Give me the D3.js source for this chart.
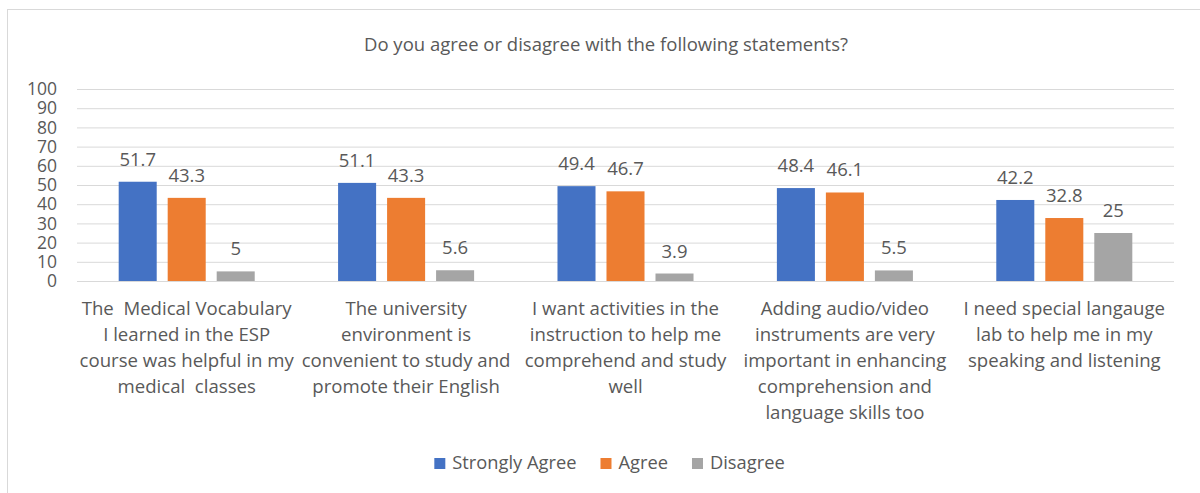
<!DOCTYPE html>
<html>
<head>
<meta charset="utf-8">
<script src="https://cdn.jsdelivr.net/npm/d3@7"></script>
<style>
  body { margin: 0; background: #fff; }
  text { font-family: "Open Sans", sans-serif; fill: #595959; }
</style>
</head>
<body>
<div id="chart"></div>
<script>
// category labels, already wrapped the way the original shows them
const categories = [
  ['The  Medical Vocabulary', 'I learned in the ESP', 'course was helpful in my', 'medical  classes'],
  ['The university', 'environment is', 'convenient to study and', 'promote their English'],
  ['I want activities in the', 'instruction to help me', 'comprehend and study', 'well'],
  ['Adding audio/video', 'instruments are very', 'important in enhancing', 'comprehension and', 'language skills too'],
  ['I need special langauge', 'lab to help me in my', 'speaking and listening'],
];
const seriesNames = ['Strongly Agree', 'Agree', 'Disagree'];
const stronglyAgree = [51.7, 51.1, 49.4, 48.4, 42.2];
const agree = [43.3, 43.3, 46.7, 46.1, 32.8];
const disagree = [5, 5.6, 3.9, 5.5, 25];
const yTicks = [0, 10, 20, 30, 40, 50, 60, 70, 80, 90, 100];
const colors = ['#4472C4', '#ED7D31', '#A5A5A5'];

const width = 1200;
const height = 493;
const plot = { l: 77, r: 1174, t: 89, b: 281 };

const svg = d3.select('#chart')
  .append('svg')
  .attr('width', width)
  .attr('height', height);

// outer chart border (right/bottom edges fall outside the crop)
svg.append('rect')
  .attr('x', 7.5).attr('y', 9.5)
  .attr('width', 1300).attr('height', 600)
  .attr('fill', 'none')
  .attr('stroke', '#d9d9d9');

svg.append('text')
  .attr('x', 606).attr('y', 51)
  .attr('text-anchor', 'middle')
  .attr('font-size', '18.5px')
  .text('Do you agree or disagree with the following statements?');

const keys = categories.map((d, i) => i);
const rows = keys.map((i) => [stronglyAgree[i], agree[i], disagree[i]]);

const x0 = d3.scaleBand()
  .domain(keys)
  .range([plot.l, plot.r])
  .paddingInner(0.38)
  .paddingOuter(0.19);

const x1 = d3.scaleBand()
  .domain([0, 1, 2])
  .range([0, x0.bandwidth()])
  .paddingInner(0.224);

const y = d3.scaleLinear()
  .domain([0, 100])
  .range([plot.b, plot.t]);

// gridlines + y labels
const yAxis = svg.append('g')
  .attr('transform', `translate(${plot.l},0)`)
  .call(d3.axisLeft(y).tickValues(yTicks).tickSize(-(plot.r - plot.l)).tickPadding(20));
yAxis.select('.domain').remove();
yAxis.selectAll('.tick line').attr('stroke', '#d9d9d9');
yAxis.selectAll('.tick text')
  .attr('font-size', '17.5px')
  .attr('fill', '#595959')
  .attr('font-family', '"Open Sans", sans-serif');

const groups = svg.selectAll('g.grp')
  .data(rows)
  .join('g')
  .attr('class', 'grp')
  .attr('transform', (d, i) => `translate(${x0(i)},0)`);

groups.selectAll('rect')
  .data((d) => d)
  .join('rect')
  .attr('x', (d, j) => x1(j))
  .attr('y', (d) => y(d))
  .attr('width', x1.bandwidth())
  .attr('height', (d) => y(0) - y(d))
  .attr('fill', (d, j) => colors[j]);

groups.selectAll('text.val')
  .data((d) => d)
  .join('text')
  .attr('class', 'val')
  .attr('x', (d, j) => x1(j) + x1.bandwidth() / 2)
  .attr('y', (d) => y(d) - 16)
  .attr('text-anchor', 'middle')
  .attr('font-size', '18.5px')
  .text((d) => d);

// x axis line at 0
svg.append('line')
  .attr('x1', plot.l).attr('x2', plot.r)
  .attr('y1', y(0) + 0.5).attr('y2', y(0) + 0.5)
  .attr('stroke', '#d9d9d9');

// category labels
svg.selectAll('text.cat')
  .data(categories)
  .join('text')
  .attr('class', 'cat')
  .attr('text-anchor', 'middle')
  .attr('font-size', '18.6px')
  .each(function (lines, i) {
    const t = d3.select(this);
    const cx = x0(i) + x0.bandwidth() / 2;
    lines.forEach((ln, k) => {
      t.append('tspan')
        .attr('x', cx)
        .attr('y', 315 + k * 26)
        .attr('xml:space', 'preserve')
        .text(ln);
    });
  });

// legend
const legend = svg.append('g');
let lx = 0;
seriesNames.forEach((name, j) => {
  const item = legend.append('g').attr('transform', `translate(${lx},0)`);
  item.append('rect')
    .attr('x', 0).attr('y', -11)
    .attr('width', 11).attr('height', 11)
    .attr('fill', colors[j]);
  const t = item.append('text')
    .attr('x', 18).attr('y', 0)
    .attr('font-size', '18.3px')
    .text(name);
  lx += 18 + t.node().getComputedTextLength() + 24;
});
lx -= 24;
legend.attr('transform', `translate(${609.5 - lx / 2},469)`);
</script>
</body>
</html>
